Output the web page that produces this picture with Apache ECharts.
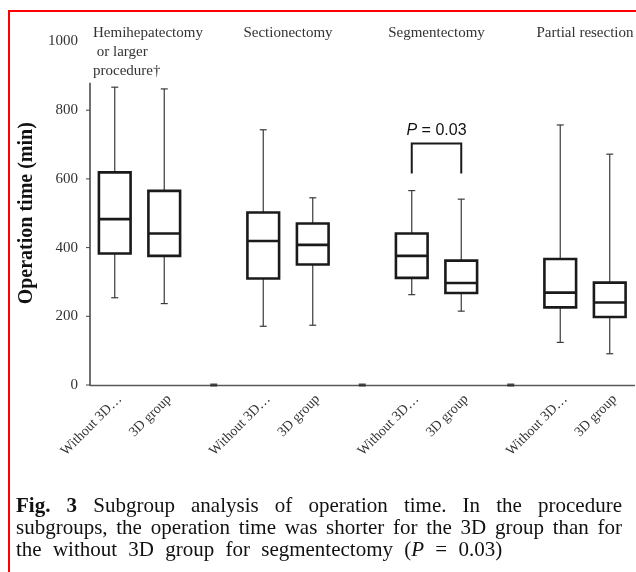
<!DOCTYPE html>
<html>
<head>
<meta charset="utf-8">
<script src="https://cdn.jsdelivr.net/npm/echarts@6/dist/echarts.min.js"></script>
<style>
  html, body { margin: 0; padding: 0; background: #fff; }
  #wrap { position: relative; width: 636px; height: 572px; overflow: hidden; }
  #main { position: absolute; left: 0; top: 0; width: 636px; height: 572px; }
  #frame { position: absolute; left: 8px; top: 10px; width: 640px; height: 580px;
           border-top: 2px solid #ff0000; border-left: 2px solid #ff0000; pointer-events: none; }
  #caption { position: absolute; left: 16px; top: 494px; width: 606px;
             font-family: "Liberation Serif", "DejaVu Serif", serif; font-size: 21px;
             line-height: 22px; color: #111; }
  #caption div { white-space: nowrap; }
  #caption .full { text-align: justify; text-align-last: justify; white-space: normal; }
  #caption .last { word-spacing: 6px; }
</style>
</head>
<body>
<div id="wrap">
  <div id="main"></div>
  <div id="frame"></div>
  <div id="caption">
    <div class="full"><b>Fig. 3</b> Subgroup analysis of operation time. In the procedure</div>
    <div class="full">subgroups, the operation time was shorter for the 3D group than for</div>
    <div class="last">the without 3D group for segmentectomy (<i>P</i> = 0.03)</div>
  </div>
</div>
<script>
// categories on the x axis (empty slots separate the procedure groups)
var categories = ['Without 3D\u2026', '3D group', '',
                  'Without 3D\u2026', '3D group', '',
                  'Without 3D\u2026', '3D group', '',
                  'Without 3D\u2026', '3D group'];
var groupNames = ['Hemihepatectomy\n or larger\nprocedure\u2020', 'Sectionectomy', 'Segmentectomy', 'Partial resection'];
var groupSlots = [[0, 1], [3, 4], [6, 7], [9, 10]];
var gapSlots = [2, 5, 8];
var gapValues = [0, 0, 0];

// box plots (min, q1, median, q3, max) - operation time, min
var boxSlots    = [0, 1, 3, 4, 6, 7, 9, 10];
var whiskerLow  = [254, 237, 171, 174, 263, 215, 124, 91];
var quart1      = [383, 376, 310, 351, 312, 268, 226, 198];
var medians     = [483, 441, 419, 408, 376, 297, 269, 240];
var quart3      = [619, 565, 502, 470, 441, 362, 367, 298];
var whiskerHigh = [867, 862, 743, 545, 566, 541, 757, 672];

// significance bracket for segmentectomy
var pSlots = [6, 7];
var pBracketTop = 703;
var pBracketBottom = 616;
var pText = 'P = 0.03';

var yTicks = [0, 200, 400, 600, 800, 1000];
var yAxisLineTop = 880;

var serif = '"Liberation Serif", "DejaVu Serif", serif';
var sans = '"Liberation Sans", "Open Sans", sans-serif';

var boxData = boxSlots.map(function(s, i){
    return [s, whiskerLow[i], quart1[i], medians[i], quart3[i], whiskerHigh[i]];
});

function renderBox(params, api){
    var x = api.value(0);
    var lo = api.coord([x, api.value(1)]);
    var q1 = api.coord([x, api.value(2)]);
    var md = api.coord([x, api.value(3)]);
    var q3 = api.coord([x, api.value(4)]);
    var hi = api.coord([x, api.value(5)]);
    var hw = api.size([1, 0])[0] * 0.32;
    var cap = 3.5;
    var cx = lo[0];
    var thin = {stroke: '#3a3a3a', lineWidth: 1.2};
    var thick = {stroke: '#1a1a1a', lineWidth: 2.6, fill: 'none'};
    return {
        type: 'group',
        children: [
            {type: 'line', shape: {x1: cx, y1: hi[1], x2: cx, y2: q3[1]}, style: thin},
            {type: 'line', shape: {x1: cx - cap, y1: hi[1], x2: cx + cap, y2: hi[1]}, style: thin},
            {type: 'line', shape: {x1: cx, y1: q1[1], x2: cx, y2: lo[1]}, style: thin},
            {type: 'line', shape: {x1: cx - cap, y1: lo[1], x2: cx + cap, y2: lo[1]}, style: thin},
            {type: 'rect', shape: {x: cx - hw, y: q3[1], width: hw * 2, height: q1[1] - q3[1]}, style: thick},
            {type: 'line', shape: {x1: cx - hw, y1: md[1], x2: cx + hw, y2: md[1]}, style: thick}
        ]
    };
}

// y axis line with small outward ticks, stopping below the top tick like the original
function renderYAxis(params, api){
    var p0 = api.coord([0, 0]);
    var p1 = api.coord([0, api.value(1)]);
    var x = p0[0] - api.size([1, 0])[0] / 2;
    var kids = [{type: 'line', shape: {x1: x, y1: p1[1], x2: x, y2: p0[1]},
                 style: {stroke: '#222', lineWidth: 1.3}}];
    yTicks.forEach(function(t){
        if (t > api.value(1)) return;
        var y = api.coord([0, t])[1];
        kids.push({type: 'line', shape: {x1: x - 4, y1: y, x2: x, y2: y},
                   style: {stroke: '#444', lineWidth: 1}});
    });
    return {type: 'group', children: kids};
}

var chart = echarts.init(document.getElementById('main'));
var option = {
    animation: false,
    backgroundColor: 'transparent',
    grid: {left: 90, right: 1.5, top: 41.5, bottom: 187, containLabel: false},
    xAxis: {
        type: 'category',
        data: categories,
        boundaryGap: true,
        axisLine: {lineStyle: {color: '#595959', width: 1.4}},
        axisTick: {show: false},
        axisLabel: {interval: 0, rotate: 45, margin: 7, verticalAlign: 'top',
                    fontFamily: serif, fontSize: 14, color: '#333'}
    },
    yAxis: {
        type: 'value',
        min: yTicks[0],
        max: yTicks[yTicks.length - 1],
        interval: 200,
        name: 'Operation time (min)',
        nameLocation: 'middle',
        nameGap: 51,
        nameTextStyle: {fontFamily: serif, fontSize: 20, fontWeight: 'bold', color: '#111'},
        axisLine: {show: false},
        axisTick: {show: false},
        splitLine: {show: false},
        axisLabel: {margin: 12, fontFamily: serif, fontSize: 15, color: '#333',
                    formatter: function(v){ return String(v); }}
    },
    series: [
        {
            type: 'custom',
            silent: true,
            data: [[0, yAxisLineTop]],
            renderItem: renderYAxis
        },
        {
            type: 'custom',
            name: 'boxes',
            data: boxData,
            renderItem: renderBox,
            z: 3
        },
        {
            type: 'scatter',
            silent: true,
            symbol: 'rect',
            symbolSize: [7, 3],
            itemStyle: {color: '#222'},
            data: gapSlots.map(function(s, i){ return [s, gapValues[i]]; })
        },
        {
            // group titles, centred over each pair (the multi-line one is left aligned)
            type: 'custom',
            silent: true,
            data: groupSlots.map(function(s, i){ return [s[0], s[1], yTicks[yTicks.length - 1], i]; }),
            renderItem: function(params, api){
                var a = api.coord([api.value(0), api.value(2)]);
                var b = api.coord([api.value(1), api.value(2)]);
                var i = api.value(3);
                var multi = groupNames[i].indexOf('\n') >= 0;
                var x = multi ? a[0] - api.size([1, 0])[0] / 2 + 3 : (a[0] + b[0]) / 2;
                return {type: 'text', style: {
                    text: groupNames[i], x: x, y: a[1] - 18,
                    fontFamily: serif, fontSize: 15, lineHeight: 19,
                    fill: '#333', align: multi ? 'left' : 'center', verticalAlign: 'top'}};
            }
        },
        {
            // P-value bracket
            type: 'custom',
            silent: true,
            data: [[pSlots[0], pSlots[1], pBracketTop, pBracketBottom]],
            renderItem: function(params, api){
                var a = api.coord([api.value(0), api.value(2)]);
                var b = api.coord([api.value(1), api.value(2)]);
                var a2 = api.coord([api.value(0), api.value(3)]);
                var b2 = api.coord([api.value(1), api.value(3)]);
                return {type: 'group', children: [
                    {type: 'polyline', shape: {points: [[a2[0], a2[1]], [a[0], a[1]], [b[0], b[1]], [b2[0], b2[1]]]},
                     style: {stroke: '#1a1a1a', lineWidth: 2, fill: 'none'}},
                    {type: 'text', style: {
                        text: '{i|P}' + pText.slice(1), x: (a[0] + b[0]) / 2, y: a[1] - 5,
                        align: 'center', verticalAlign: 'bottom',
                        fontFamily: sans, fontSize: 16, fill: '#111',
                        rich: {i: {fontStyle: 'italic', fontFamily: sans, fontSize: 16, fill: '#111'}}
                    }}
                ]};
            }
        }
    ]
};
chart.setOption(option);
</script>
</body>
</html>
